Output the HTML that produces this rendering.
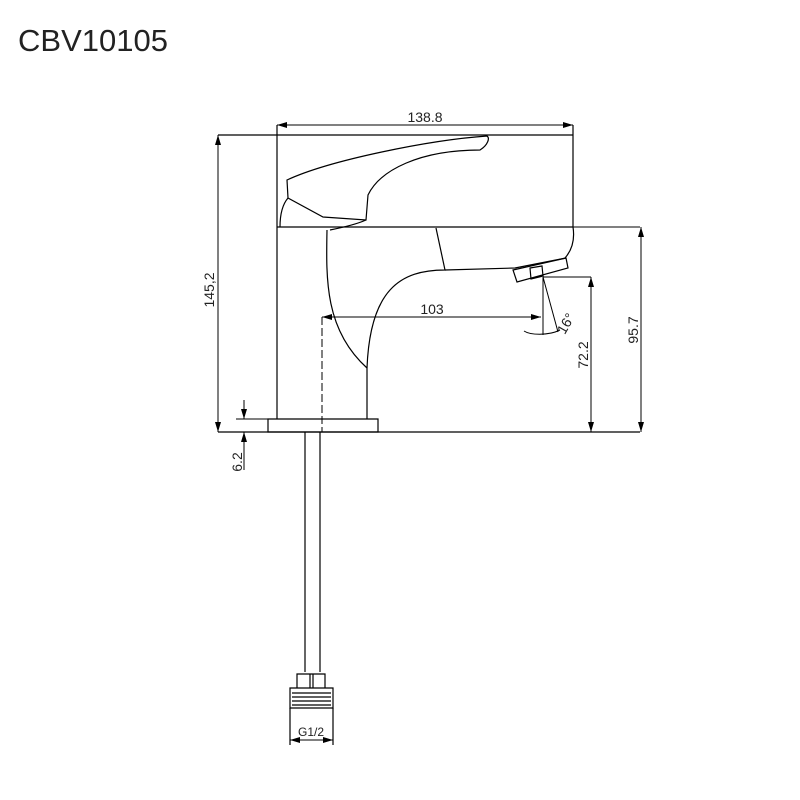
<!DOCTYPE html>
<html><head><style>body{margin:0;background:#fff}svg{display:block}</style></head><body>
<svg width="800" height="800" viewBox="0 0 800 800" xmlns="http://www.w3.org/2000/svg" font-family="Liberation Sans, sans-serif">
<defs><marker id="a" markerWidth="10" markerHeight="6" refX="10" refY="3" orient="auto-start-reverse" markerUnits="userSpaceOnUse"><path d="M0,0 L10,3 L0,6 z" fill="#000"/></marker></defs>
<text x="18" y="51" font-size="31" fill="#222">CBV10105</text>
<g fill="none" stroke="#000" stroke-width="1.2">
<path d="M218,135 H573 V227 M277,125 V227 M573,125 V135"/>
<line x1="277" y1="125" x2="573" y2="125" marker-start="url(#a)" marker-end="url(#a)" stroke-width="1"/>
<path d="M287,180 L288,198 L323,217 L366,220 L368,195 C380,170 420,150 480,150 C488,145 490,138 487,136 C430,140 330,160 287,180 Z"/>
<path d="M288,198 C282,205 280,215 280,227"/>
<path d="M366,220 C355,225 340,228 330,230"/>
<path d="M277,227 H573 C575,240 572,250 565,258"/>
<path d="M277,227 V419 M327,230 C326,280 325,330 367,368 V419"/>
<path d="M436,228 L445,270 C400,270 370,290 367,368"/>
<path d="M445,270 L515,268 L566,258"/>
<path d="M513,270 L566,258 L568,268 L517,282 Z M530,268 L542,266 L543,276 L531,279 Z"/>
<path d="M268,419 H378 V432 H268 Z"/>
<path d="M218,432 H640"/>
<path d="M305,432 V672 M320,432 V672"/>
<path d="M322,317 V432" stroke-dasharray="8,3" stroke-width="1"/>
<path d="M297,688 V674 H325 V688 M310,674 V688 M313,674 V688"/>
<path d="M290,688 H333 V708 H290 Z M292,693 H331 M292,697 H331 M292,701 H331 M292,705 H331"/>
<path d="M290,708 V745 M333,708 V745"/>
<line x1="290" y1="740" x2="333" y2="740" marker-start="url(#a)" marker-end="url(#a)" stroke-width="1"/>
<line x1="218" y1="135" x2="218" y2="432" marker-start="url(#a)" marker-end="url(#a)" stroke-width="1"/>
<path d="M573,227 H640 M543,277 H591" stroke-width="1"/>
<line x1="641" y1="227" x2="641" y2="432" marker-start="url(#a)" marker-end="url(#a)" stroke-width="1"/>
<line x1="591" y1="277" x2="591" y2="432" marker-start="url(#a)" marker-end="url(#a)" stroke-width="1"/>
<line x1="322" y1="317" x2="541" y2="317" marker-start="url(#a)" marker-end="url(#a)" stroke-width="1"/>
<path d="M543,277 V335 M543,277 L558,332" stroke-width="1"/>
<path d="M524,331 C530,335 548,336 560,330" stroke-width="1"/>
<path d="M244,400 V419 M244,432 V470 M236,419 H268" stroke-width="1"/>
<line x1="244" y1="400" x2="244" y2="419" marker-end="url(#a)" stroke-width="1"/>
<line x1="244" y1="452" x2="244" y2="432" marker-end="url(#a)" stroke-width="1"/>
</g>
<g font-size="14" fill="#222">
<text x="425" y="122" text-anchor="middle">138.8</text>
<text x="432" y="314" text-anchor="middle">103</text>
<text transform="translate(214,290) rotate(-90)" text-anchor="middle">145,2</text>
<text transform="translate(638,330) rotate(-90)" text-anchor="middle">95.7</text>
<text transform="translate(588,355) rotate(-90)" text-anchor="middle">72.2</text>
<text transform="translate(242,462) rotate(-90)" text-anchor="middle">6.2</text>
<text transform="translate(570,326) rotate(-60)" text-anchor="middle">16°</text>
<text x="311" y="736" text-anchor="middle" font-size="12">G1/2</text>
</g>
</svg>
</body></html>
